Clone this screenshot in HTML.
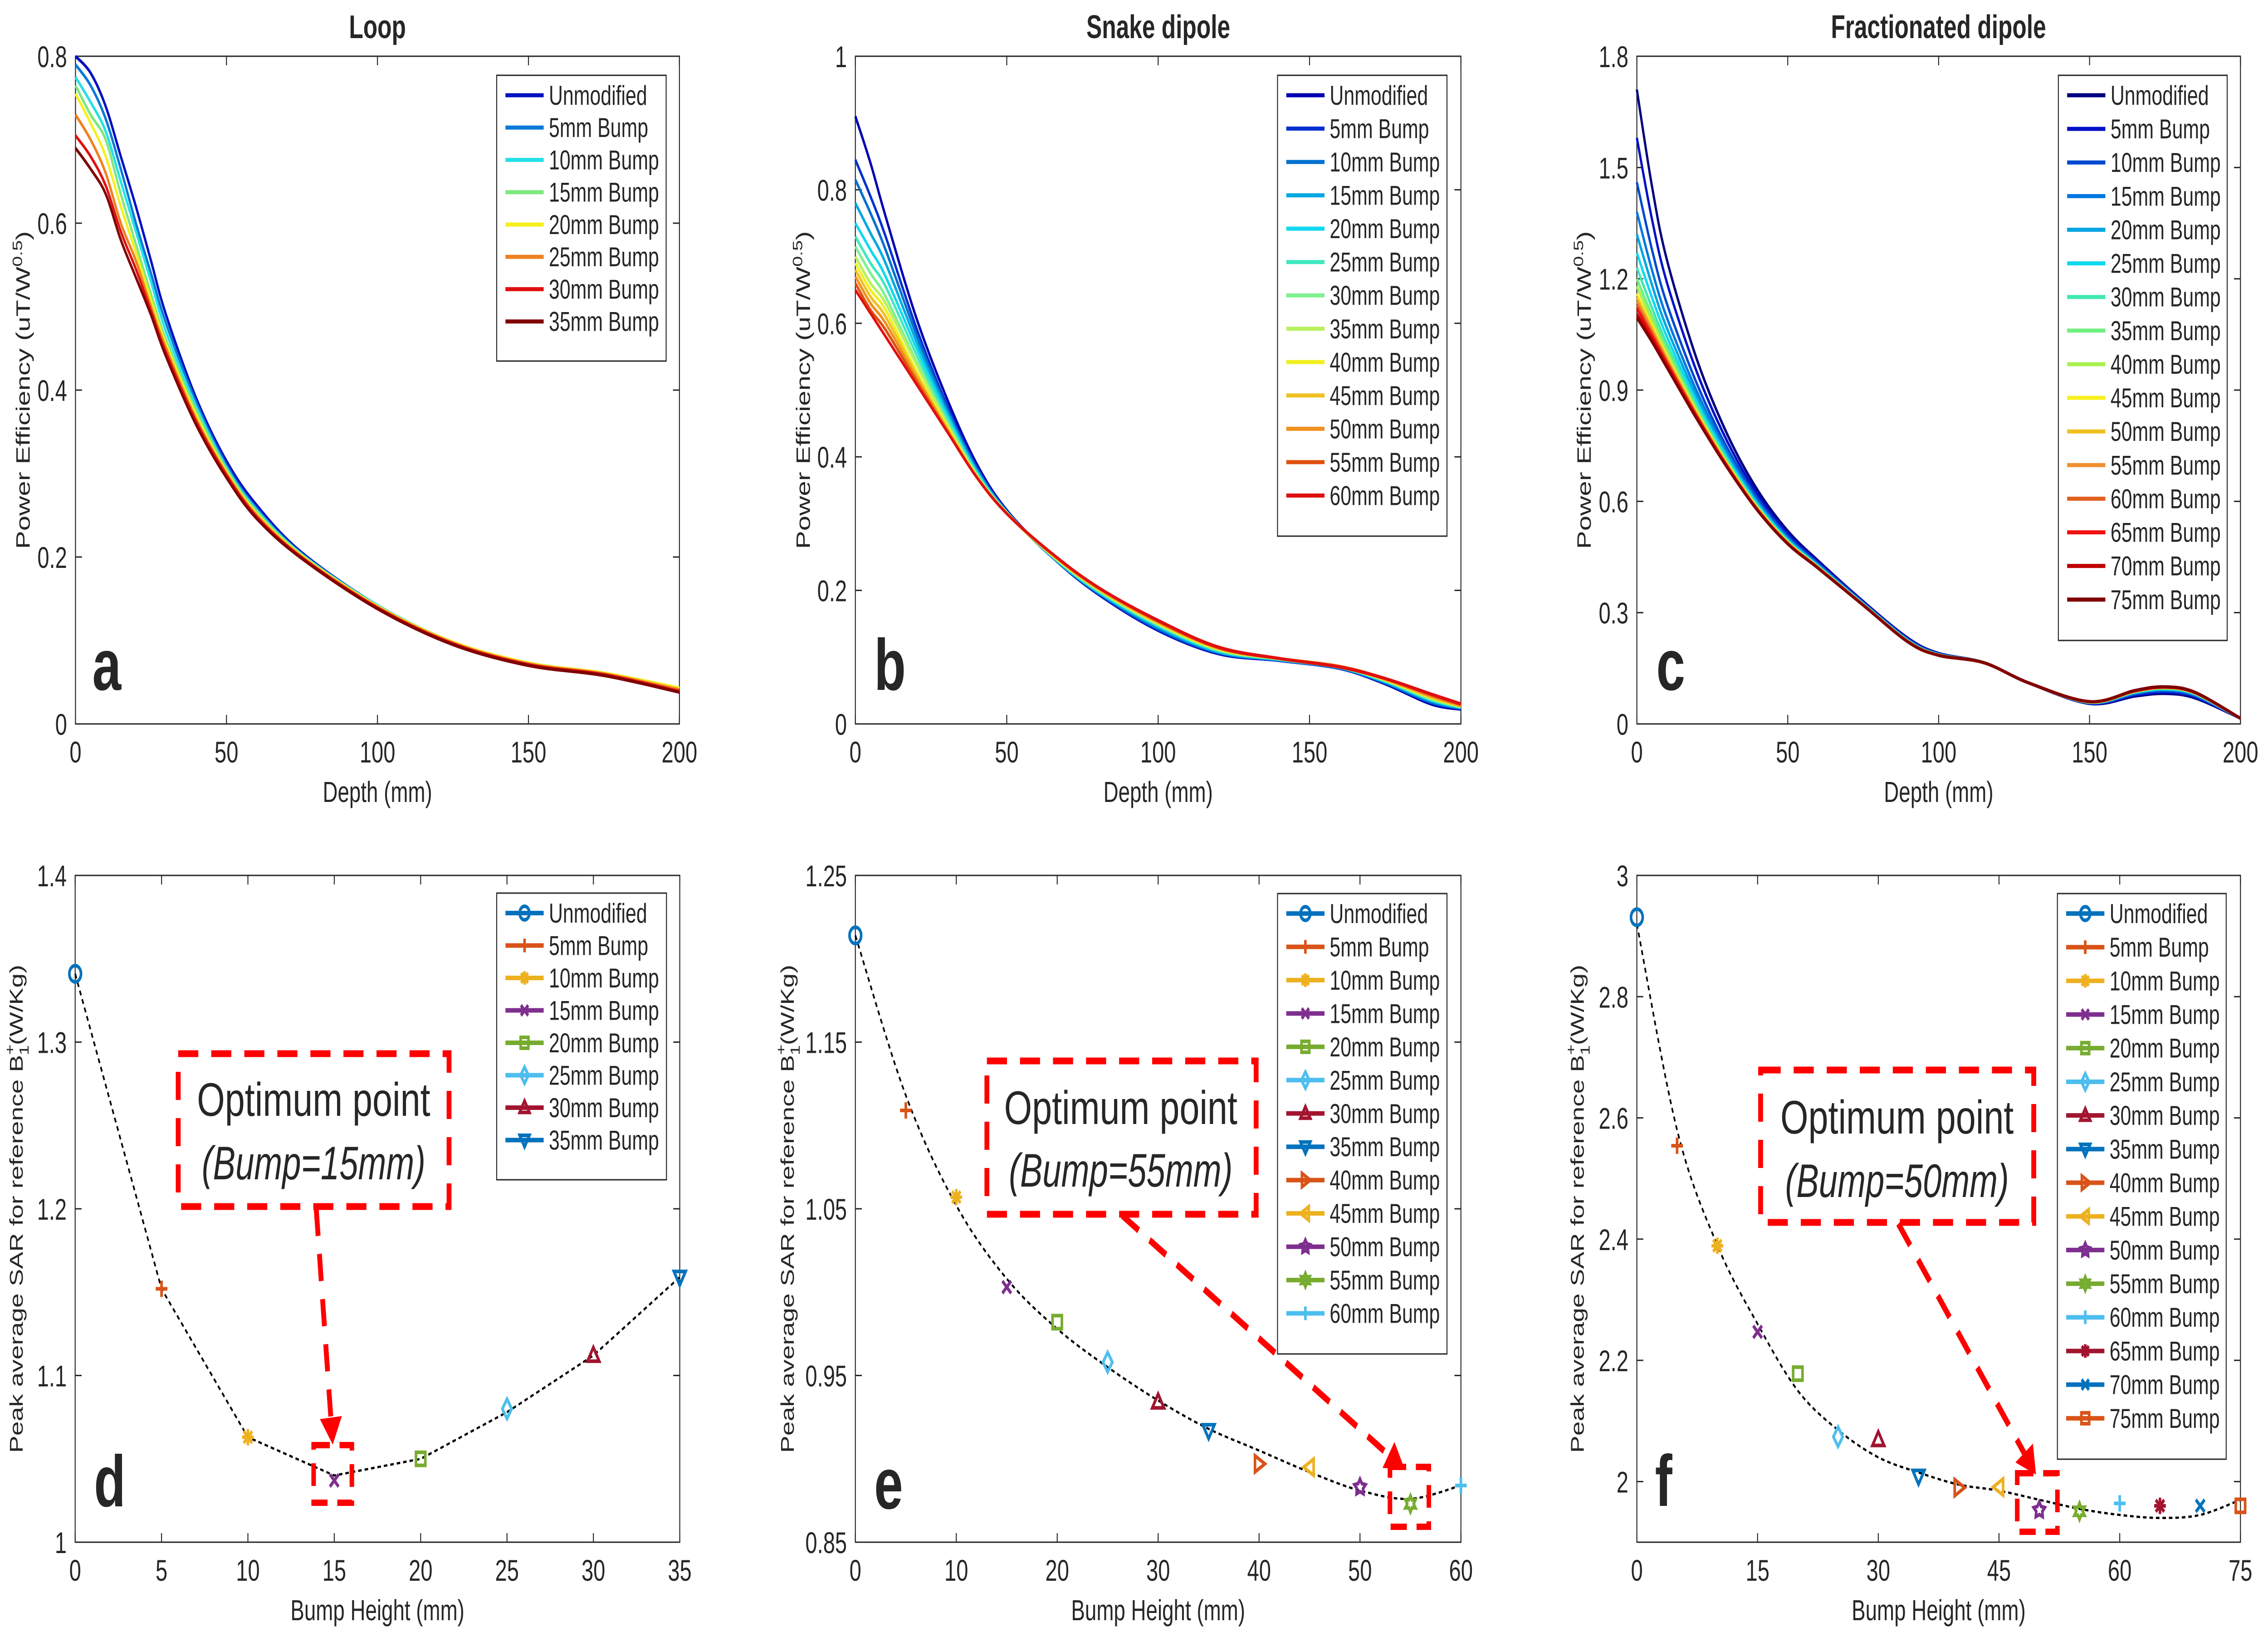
<!DOCTYPE html>
<html><head><meta charset="utf-8"><style>
html,body{margin:0;padding:0;background:#fff;width:100%;height:100%;overflow:hidden}
svg{display:block;width:100vw;height:100vh}
text{font-family:"Liberation Sans",sans-serif;fill:#262626}
</style></head><body>
<svg id="fig" xmlns="http://www.w3.org/2000/svg" viewBox="0 0 7000 3598" preserveAspectRatio="none">
<rect width="7000" height="3598" fill="#fff"/>
</svg>
<script>
// ---------- Panel a (Loop) ----------
const aDepth = [0,5,10,15,20,25,30,40,50,60,75,100,125,150,175,200];
const aNames = ["Unmodified","5mm Bump","10mm Bump","15mm Bump","20mm Bump","25mm Bump","30mm Bump","35mm Bump"];
const aColors = ["#0010c0","#0a7ad8","#27e0e8","#7de87d","#f5f020","#f08020","#e01010","#800000"];
const aS0 = [0.80,0.78,0.74,0.68,0.62,0.555,0.49,0.39,0.315,0.262,0.205,0.142,0.097,0.072,0.060,0.042];
const aS1 = [0.79,0.765,0.725,0.665,0.60,0.54,0.48,0.385,0.31,0.258,0.203,0.141,0.097,0.072,0.060,0.042];
const aS2 = [0.775,0.745,0.71,0.65,0.59,0.53,0.47,0.38,0.307,0.256,0.203,0.142,0.098,0.073,0.061,0.043];
const aS3 = [0.765,0.73,0.70,0.635,0.575,0.515,0.46,0.375,0.305,0.254,0.202,0.141,0.097,0.072,0.060,0.043];
const aS4 = [0.755,0.72,0.68,0.62,0.565,0.508,0.455,0.37,0.302,0.252,0.201,0.141,0.098,0.073,0.061,0.043];
const aS5 = [0.73,0.70,0.66,0.60,0.555,0.50,0.45,0.365,0.30,0.250,0.200,0.140,0.097,0.072,0.060,0.041];
const aS6 = [0.705,0.68,0.645,0.59,0.545,0.495,0.445,0.362,0.298,0.248,0.199,0.139,0.096,0.071,0.059,0.039];
const aS7 = [0.69,0.665,0.635,0.58,0.535,0.49,0.44,0.358,0.295,0.246,0.198,0.138,0.095,0.070,0.058,0.038];
const aYTicks = [0,0.2,0.4,0.6,0.8];
const aYLabels = ["0","0.2","0.4","0.6","0.8"];

// ---------- Panel b (Snake dipole) ----------
const bDepth = [0,5,10,20,30,40,50,65,80,100,120,140,160,175,190,200];
const bNames = ["Unmodified","5mm Bump","10mm Bump","15mm Bump","20mm Bump","25mm Bump","30mm Bump","35mm Bump","40mm Bump","45mm Bump","50mm Bump","55mm Bump","60mm Bump"];
const bColors = ["#0000b0","#0030d0","#0070d0","#00a8e0","#10d8f0","#40e8c0","#80f090","#b8f060","#f0f020","#f0c020","#f09020","#e05010","#e01010"];
const bS0 = [0.91,0.84,0.76,0.61,0.49,0.39,0.32,0.25,0.195,0.140,0.105,0.095,0.083,0.060,0.030,0.022];
const bS1 = [0.845,0.79,0.73,0.595,0.48,0.385,0.318,0.25,0.196,0.141,0.106,0.095,0.083,0.061,0.032,0.023];
const bS2 = [0.815,0.765,0.71,0.585,0.475,0.383,0.318,0.25,0.197,0.143,0.107,0.096,0.084,0.062,0.033,0.024];
const bS3 = [0.78,0.735,0.69,0.575,0.47,0.38,0.317,0.251,0.198,0.145,0.108,0.096,0.084,0.063,0.035,0.024];
const bS4 = [0.75,0.71,0.67,0.565,0.465,0.378,0.317,0.251,0.199,0.147,0.109,0.097,0.085,0.064,0.036,0.025];
const bS5 = [0.73,0.69,0.655,0.555,0.46,0.376,0.316,0.252,0.200,0.148,0.110,0.097,0.085,0.065,0.037,0.025];
const bS6 = [0.715,0.675,0.64,0.545,0.455,0.374,0.316,0.252,0.201,0.149,0.111,0.097,0.085,0.065,0.038,0.026];
const bS7 = [0.70,0.66,0.63,0.54,0.452,0.372,0.316,0.253,0.202,0.150,0.112,0.098,0.085,0.066,0.039,0.026];
const bS8 = [0.69,0.65,0.62,0.53,0.448,0.372,0.315,0.253,0.203,0.151,0.112,0.098,0.086,0.066,0.040,0.027];
const bS9 = [0.68,0.64,0.61,0.525,0.445,0.371,0.315,0.254,0.203,0.152,0.113,0.098,0.086,0.067,0.041,0.027];
const bS10 = [0.67,0.63,0.60,0.52,0.443,0.37,0.315,0.254,0.204,0.153,0.114,0.098,0.086,0.067,0.042,0.028];
const bS11 = [0.66,0.62,0.59,0.515,0.441,0.37,0.315,0.255,0.205,0.154,0.114,0.098,0.086,0.068,0.044,0.029];
const bS12 = [0.65,0.615,0.58,0.51,0.44,0.37,0.315,0.255,0.205,0.155,0.115,0.098,0.085,0.068,0.045,0.030];
const bYTicks = [0,0.2,0.4,0.6,0.8,1];
const bYLabels = ["0","0.2","0.4","0.6","0.8","1"];

// ---------- Panel c (Fractionated dipole) ----------
const cDepth = [0,5,10,20,30,40,50,60,75,90,100,115,130,150,165,175,185,200];
const cNames = ["Unmodified","5mm Bump","10mm Bump","15mm Bump","20mm Bump","25mm Bump","30mm Bump","35mm Bump","40mm Bump","45mm Bump","50mm Bump","55mm Bump","60mm Bump","65mm Bump","70mm Bump","75mm Bump"];
const cColors = ["#000080","#0010c8","#0048d0","#0078e0","#00a4e0","#10d8f0","#40e8b0","#70f080","#a8f050","#f8f020","#f0c020","#f09030","#e06020","#f01010","#c00000","#800000"];
const cS0 = [1.71,1.45,1.25,0.98,0.78,0.63,0.52,0.44,0.33,0.23,0.19,0.165,0.11,0.055,0.075,0.082,0.07,0.015];
const cS1 = [1.58,1.361,1.189,0.946,0.761,0.618,0.513,0.436,0.328,0.228,0.189,0.165,0.11,0.056,0.078,0.086,0.073,0.015];
const cS2 = [1.46,1.279,1.132,0.915,0.743,0.608,0.506,0.432,0.326,0.226,0.188,0.165,0.11,0.057,0.081,0.089,0.076,0.015];
const cS3 = [1.38,1.224,1.094,0.894,0.732,0.600,0.501,0.429,0.325,0.225,0.187,0.165,0.11,0.058,0.083,0.092,0.078,0.015];
const cS4 = [1.32,1.184,1.066,0.879,0.723,0.595,0.498,0.427,0.324,0.224,0.187,0.165,0.11,0.058,0.085,0.093,0.080,0.015];
const cS5 = [1.27,1.150,1.043,0.866,0.716,0.591,0.495,0.426,0.323,0.223,0.186,0.165,0.11,0.059,0.086,0.095,0.081,0.015];
const cS6 = [1.23,1.122,1.024,0.855,0.710,0.587,0.493,0.424,0.322,0.222,0.186,0.165,0.11,0.059,0.087,0.096,0.082,0.015];
const cS7 = [1.20,1.102,1.010,0.847,0.705,0.584,0.491,0.423,0.322,0.222,0.186,0.165,0.11,0.059,0.087,0.097,0.082,0.015];
const cS8 = [1.18,1.088,1.000,0.842,0.702,0.583,0.490,0.423,0.321,0.221,0.186,0.165,0.11,0.059,0.088,0.098,0.083,0.015];
const cS9 = [1.16,1.075,0.991,0.837,0.700,0.581,0.489,0.422,0.321,0.221,0.185,0.165,0.11,0.059,0.088,0.098,0.083,0.015];
const cS10 = [1.15,1.067,0.986,0.834,0.698,0.580,0.488,0.422,0.321,0.221,0.185,0.165,0.11,0.060,0.089,0.098,0.084,0.015];
const cS11 = [1.14,1.061,0.981,0.832,0.697,0.579,0.488,0.421,0.321,0.221,0.185,0.165,0.11,0.060,0.089,0.099,0.084,0.015];
const cS12 = [1.13,1.054,0.977,0.829,0.695,0.578,0.487,0.421,0.321,0.221,0.185,0.165,0.11,0.060,0.089,0.099,0.084,0.015];
const cS13 = [1.12,1.047,0.972,0.827,0.694,0.577,0.486,0.421,0.320,0.220,0.185,0.165,0.11,0.060,0.089,0.099,0.084,0.015];
const cS14 = [1.105,1.037,0.965,0.823,0.691,0.576,0.486,0.420,0.320,0.220,0.185,0.165,0.11,0.060,0.090,0.100,0.085,0.015];
const cS15 = [1.095,1.03,0.96,0.82,0.69,0.575,0.485,0.42,0.32,0.22,0.185,0.165,0.11,0.06,0.09,0.10,0.085,0.015];
const cYTicks = [0,0.3,0.6,0.9,1.2,1.5,1.8];
const cYLabels = ["0","0.3","0.6","0.9","1.2","1.5","1.8"];

const depthTicks = [0,50,100,150,200];
const depthLabels = ["0","50","100","150","200"];

// ---------- Panel d ----------
const dBump = [0,5,10,15,20,25,30,35];
const dSAR = [1.341,1.152,1.063,1.037,1.050,1.080,1.112,1.159];
const dCurveX = [0,5,10,15,20,25,30,35];
const dCurveY = [1.341,1.152,1.063,1.040,1.050,1.078,1.112,1.159];
const dXTicks = [0,5,10,15,20,25,30,35];
const dXLabels = ["0","5","10","15","20","25","30","35"];
const dYTicks = [1,1.1,1.2,1.3,1.4];
const dYLabels = ["1","1.1","1.2","1.3","1.4"];

// ---------- Panel e ----------
const eBump = [0,5,10,15,20,25,30,35,40,45,50,55,60];
const eSAR = [1.214,1.109,1.057,1.003,0.982,0.958,0.934,0.917,0.897,0.895,0.883,0.873,0.884];
const eCurveX = [0,5,10,15,20,25,30,35,40,45,50,55,60];
const eCurveY = [1.214,1.118,1.052,1.008,0.978,0.955,0.935,0.918,0.905,0.892,0.881,0.876,0.884];
const eXTicks = [0,10,20,30,40,50,60];
const eXLabels = ["0","10","20","30","40","50","60"];
const eYTicks = [0.85,0.95,1.05,1.15,1.25];
const eYLabels = ["0.85","0.95","1.05","1.15","1.25"];

// ---------- Panel f ----------
const fBump = [0,5,10,15,20,25,30,35,40,45,50,55,60,65,70,75];
const fSAR = [2.931,2.554,2.389,2.247,2.178,2.074,2.069,2.009,1.990,1.991,1.953,1.951,1.964,1.960,1.960,1.960];
const fCurveX = [0,5,10,15,20,25,30,35,40,45,50,55,60,65,70,75];
const fCurveY = [2.92,2.58,2.39,2.26,2.15,2.085,2.04,2.015,1.995,1.985,1.97,1.955,1.945,1.94,1.945,1.97];
const fXTicks = [0,15,30,45,60,75];
const fXLabels = ["0","15","30","45","60","75"];
const fYTicks = [2,2.2,2.4,2.6,2.8,3];
const fYLabels = ["2","2.2","2.4","2.6","2.8","3"];

const bumpNames = ["Unmodified","5mm Bump","10mm Bump","15mm Bump","20mm Bump","25mm Bump","30mm Bump","35mm Bump","40mm Bump","45mm Bump","50mm Bump","55mm Bump","60mm Bump","65mm Bump","70mm Bump","75mm Bump"];
const mCols = ["#0072BD","#D95319","#EDB120","#7E2F8E","#77AC30","#4DBEEE","#A2142F"];
const mShapes = ["o","+","*","x","s","d","^","v",">","<","p","h","+","*","x","s"];

const NS = "http://www.w3.org/2000/svg";
const svg = document.getElementById('fig');
function el(tag, attrs, parent){
  const e = document.createElementNS(NS, tag);
  for (const k in attrs) e.setAttribute(k, attrs[k]);
  (parent||svg).appendChild(e);
  return e;
}
function txt(x,y,s,size,opts,parent){
  const t = el('text',{x:x,y:y,'font-size':size},parent);
  if(opts){for(const k in opts) t.setAttribute(k,opts[k]);}
  t.textContent = s;
  return t;
}
function makeScale(d0,d1,r0,r1){return v => r0 + (v-d0)/(d1-d0)*(r1-r0);}

function smoothPath(pts){
  let d = "M"+pts[0][0].toFixed(1)+","+pts[0][1].toFixed(1);
  for(let i=0;i<pts.length-1;i++){
    const p0 = pts[Math.max(0,i-1)], p1=pts[i], p2=pts[i+1], p3=pts[Math.min(pts.length-1,i+2)];
    const c1x = p1[0]+(p2[0]-p0[0])/6, c1y = p1[1]+(p2[1]-p0[1])/6;
    const c2x = p2[0]-(p3[0]-p1[0])/6, c2y = p2[1]-(p3[1]-p1[1])/6;
    d += " C"+c1x.toFixed(1)+","+c1y.toFixed(1)+" "+c2x.toFixed(1)+","+c2y.toFixed(1)+" "+p2[0].toFixed(1)+","+p2[1].toFixed(1);
  }
  return d;
}

function axes(cfg){
  const g = el('g',{});
  
  
  const {L,R,T,B} = cfg;
  const sx = makeScale(cfg.x0,cfg.x1,L,R), sy = makeScale(cfg.y0,cfg.y1,B,T);
  el('rect',{x:L,y:T,width:R-L,height:B-T,fill:'none',stroke:'#262626','stroke-width':3},g);
  cfg.xTicks.forEach((v,i)=>{
    const x = sx(v);
    el('line',{x1:x,y1:B,x2:x,y2:B-20,stroke:'#262626','stroke-width':3},g);
    el('line',{x1:x,y1:T,x2:x,y2:T+20,stroke:'#262626','stroke-width':3},g);
    const t = txt(x,B+85,cfg.xLabels[i],66,{'text-anchor':'middle'},g);
    
    
  });
  cfg.yTicks.forEach((v,i)=>{
    const y = sy(v);
    el('line',{x1:L,y1:y,x2:L+20,y2:y,stroke:'#262626','stroke-width':3},g);
    el('line',{x1:R,y1:y,x2:R-20,y2:y,stroke:'#262626','stroke-width':3},g);
    const t = txt(L-26,y+24,cfg.yLabels[i],66,{'text-anchor':'end'},g);
    
    
  });
  const xl = txt((L+R)/2,cfg.xlabY,cfg.xlabel,64,{'text-anchor':'middle'},g);
  
  
  return {g,sx,sy};
}

function yTitlePower(x,cy){
  const t = el('text',{x:0,y:0,'font-size':60,'text-anchor':'middle',transform:`translate(${x},${cy}) rotate(-90)`});
  
  
  const a = el('tspan',{},t); a.textContent = "Power Efficiency (uT/W";
  const b = el('tspan',{'font-size':42,dy:-24},t); b.textContent = "0.5";
  const c = el('tspan',{dy:24},t); c.textContent = ")";
}
function yTitleSAR(x,cy){
  const t = el('text',{x:0,y:0,'font-size':57,'text-anchor':'middle',transform:`translate(${x},${cy}) rotate(-90)`});
  
  
  const a = el('tspan',{},t); a.textContent = "Peak average SAR for reference B";
  const b = el('tspan',{'font-size':40,dy:-26},t); b.textContent = "+";
  const c = el('tspan',{'font-size':40,dx:-24,dy:44},t); c.textContent = "1";
  const d = el('tspan',{dy:-18},t); d.textContent = "(W/Kg)";
}
function title(x,s){
  const t = txt(x,84,s,72,{'text-anchor':'middle','font-weight':'bold',fill:'#000'});
  
  
}
function letter(x,y,s){
  const t = txt(x,y,s,160,{'font-weight':'bold',fill:'#000'});
  
  
}

function marker(g,shape,x,y,col,r){
  const sw = 8;
  const common = {fill:'none',stroke:col,'stroke-width':sw,'stroke-linejoin':'miter'};
  let m;
  if(shape==='o'){ m = el('circle',Object.assign({cx:x,cy:y,r:r},common),g); }
  else if(shape==='+'){ m = el('path',Object.assign({d:`M${x-r},${y}H${x+r}M${x},${y-r}V${y+r}`},common),g); }
  else if(shape==='x'){ const q=r*0.75; m = el('path',Object.assign({d:`M${x-q},${y-q}L${x+q},${y+q}M${x-q},${y+q}L${x+q},${y-q}`},common),g); }
  else if(shape==='*'){ const q=r*0.72; m = el('path',Object.assign({d:`M${x-r},${y}H${x+r}M${x},${y-r}V${y+r}M${x-q},${y-q}L${x+q},${y+q}M${x-q},${y+q}L${x+q},${y-q}`},common),g); }
  else if(shape==='s'){ const q=r*0.8; m = el('rect',Object.assign({x:x-q,y:y-q,width:2*q,height:2*q},common),g); }
  else if(shape==='d'){ m = el('path',Object.assign({d:`M${x},${y-r*1.2}L${x+r*0.8},${y}L${x},${y+r*1.2}L${x-r*0.8},${y}Z`},common),g); }
  else if(shape==='^'){ m = el('path',Object.assign({d:`M${x},${y-r}L${x+r},${y+r*0.7}L${x-r},${y+r*0.7}Z`},common),g); }
  else if(shape==='v'){ m = el('path',Object.assign({d:`M${x},${y+r}L${x+r},${y-r*0.7}L${x-r},${y-r*0.7}Z`},common),g); }
  else if(shape==='>'){ m = el('path',Object.assign({d:`M${x+r},${y}L${x-r*0.7},${y+r}L${x-r*0.7},${y-r}Z`},common),g); }
  else if(shape==='<'){ m = el('path',Object.assign({d:`M${x-r},${y}L${x+r*0.7},${y+r}L${x+r*0.7},${y-r}Z`},common),g); }
  else if(shape==='p'||shape==='h'){
    const n = shape==='p'?5:6; let d="";
    for(let i=0;i<2*n;i++){ const rr = i%2? r*0.55 : r; const a = -Math.PI/2 + i*Math.PI/n; d += (i?"L":"M")+(x+rr*Math.cos(a)).toFixed(1)+","+(y+rr*Math.sin(a)).toFixed(1);} d+="Z";
    m = el('path',Object.assign({d:d},common),g);
  }
  return m;
}

function legend(L,T,W,H,names,colors,withMarkers,name){
  const g = el('g',{});
  
  
  el('rect',{x:L,y:T,width:W,height:H,fill:'#fff',stroke:'#262626','stroke-width':3},g);
  const step = (H-60)/names.length;
  names.forEach((n,i)=>{
    const y = T+44+i*step;
    const e = el('g',{},g);
    
    
    const col = withMarkers ? mCols[i%7] : colors[i];
    el('line',{x1:L+27,y1:y,x2:L+145,y2:y,stroke:col,'stroke-width':withMarkers?10:9},e);
    if(withMarkers) marker(e,mShapes[i],L+86,y,col,15);
    txt(L+161,y+21,n,60,{fill:'#000'},e);
  });
}

function linePanel(cfg, depth, series, colors, names){
  const {g,sx,sy} = axes(cfg);
  series.forEach((s,i)=>{
    const pts = depth.map((d,j)=>[sx(d),sy(s[j])]);
    const p = el('path',{d:smoothPath(pts),fill:'none',stroke:colors[i],'stroke-width':7,'stroke-linejoin':'round'},g);
    
    
  });
}

function scatterPanel(cfg, xs, ys, cx, cy, smooth){
  const {g,sx,sy} = axes(cfg);
  const pts = cx.map((v,i)=>[sx(v),sy(cy[i])]);
  const d = smooth ? smoothPath(pts) : "M"+pts.map(p=>p[0].toFixed(1)+","+p[1].toFixed(1)).join(" L");
  const c = el('path',{d:d,fill:'none',stroke:'#000','stroke-width':5,'stroke-dasharray':'11 9'},g);
  
  
  xs.forEach((v,i)=>{
    const m = marker(g,mShapes[i],sx(v),sy(ys[i]),mCols[i%7],18);
    
    
  });
}

// ----- top row -----
const topT=124, topB=1596;
linePanel({name:'loop',L:233,R:2097,T:topT,B:topB,x0:0,x1:200,y0:0,y1:0.8,xTicks:depthTicks,xLabels:depthLabels,yTicks:aYTicks,yLabels:aYLabels,xlabel:'Depth (mm)',xlabY:1768},
  aDepth,[aS0,aS1,aS2,aS3,aS4,aS5,aS6,aS7],aColors,aNames);
linePanel({name:'snake',L:2640,R:4509,T:topT,B:topB,x0:0,x1:200,y0:0,y1:1,xTicks:depthTicks,xLabels:depthLabels,yTicks:bYTicks,yLabels:bYLabels,xlabel:'Depth (mm)',xlabY:1768},
  bDepth,[bS0,bS1,bS2,bS3,bS4,bS5,bS6,bS7,bS8,bS9,bS10,bS11,bS12],bColors,bNames);
linePanel({name:'fractionated',L:5052,R:6915,T:topT,B:topB,x0:0,x1:200,y0:0,y1:1.8,xTicks:depthTicks,xLabels:depthLabels,yTicks:cYTicks,yLabels:cYLabels,xlabel:'Depth (mm)',xlabY:1768},
  cDepth,[cS0,cS1,cS2,cS3,cS4,cS5,cS6,cS7,cS8,cS9,cS10,cS11,cS12,cS13,cS14,cS15],cColors,cNames);
title(1165,"Loop"); title(3575,"Snake dipole"); title(5983,"Fractionated dipole");
yTitlePower(92,860); yTitlePower(2500,860); yTitlePower(4910,860);
legend(1533,166,523,630,aNames,aColors,false,'legend-loop');
legend(3943,166,523,1016,bNames,bColors,false,'legend-snake');
legend(6353,166,521,1246,cNames,cColors,false,'legend-fractionated');
letter(285,1521,'a'); letter(2698,1521,'b'); letter(5112,1521,'c');

// ----- bottom row -----
const botT=1930, botB=3400;
scatterPanel({name:'sar-loop',L:232,R:2098,T:botT,B:botB,x0:0,x1:35,y0:1,y1:1.4,xTicks:dXTicks,xLabels:dXLabels,yTicks:dYTicks,yLabels:dYLabels,xlabel:'Bump Height (mm)',xlabY:3572},
  dBump,dSAR,dCurveX,dCurveY,false);
scatterPanel({name:'sar-snake',L:2640,R:4509,T:botT,B:botB,x0:0,x1:60,y0:0.85,y1:1.25,xTicks:eXTicks,xLabels:eXLabels,yTicks:eYTicks,yLabels:eYLabels,xlabel:'Bump Height (mm)',xlabY:3572},
  eBump,eSAR,eCurveX,eCurveY,true);
scatterPanel({name:'sar-fractionated',L:5052,R:6915,T:botT,B:botB,x0:0,x1:75,y0:1.9,y1:3,xTicks:fXTicks,xLabels:fXLabels,yTicks:fYTicks,yLabels:fYLabels,xlabel:'Bump Height (mm)',xlabY:3572},
  fBump,fSAR,fCurveX,fCurveY,true);
yTitleSAR(70,2665); yTitleSAR(2450,2665); yTitleSAR(4888,2665);
legend(1533,1969,524,632,bumpNames.slice(0,8),null,true,'legend-sar-loop');
legend(3943,1970,523,1015,bumpNames.slice(0,13),null,true,'legend-sar-snake');
legend(6350,1970,521,1247,bumpNames,null,true,'legend-sar-fractionated');
letter(290,3321,'d'); letter(2698,3326,'e'); letter(5108,3320,'f');

// ----- annotations -----
function annot(box,t1,t2,tx,ty1,ty2,a0,a1,small,name){
  const g = el('g',{});
  
  
  el('rect',{x:box[0],y:box[1],width:box[2]-box[0],height:box[3]-box[1],fill:'none',stroke:'#ff0000','stroke-width':15,'stroke-dasharray':'62 40'},g);
  txt(tx,ty1,t1,104,{'text-anchor':'middle',fill:'#ff0000',textLength:720,lengthAdjust:'spacingAndGlyphs'},g);
  txt(tx,ty2,t2,104,{'text-anchor':'middle',fill:'#ff0000','font-style':'italic'},g);
  const dx=a1[0]-a0[0], dy=a1[1]-a0[1], len=Math.hypot(dx,dy), ux=dx/len, uy=dy/len;
  const hl=60, hw=34;
  const bx=a1[0]-ux*hl, by=a1[1]-uy*hl;
  el('line',{x1:a0[0],y1:a0[1],x2:bx,y2:by,stroke:'#ff0000','stroke-width':15,'stroke-dasharray':'60 40'},g);
  el('path',{d:`M${a1[0]},${a1[1]}L${bx-uy*hw},${by+ux*hw}L${bx+uy*hw},${by-ux*hw}Z`,fill:'#ff0000'},g);
  el('rect',{x:small[0],y:small[1],width:small[2]-small[0],height:small[3]-small[1],fill:'none',stroke:'#ff0000','stroke-width':14,'stroke-dasharray':'50 30'},g);
}
annot([550,2323,1386,2660],"Optimum point","(Bump=15mm)",968,2460,2600,[976,2665],[1027,3185],[968,3186,1086,3313],'optimum-annotation-d');
annot([3046,2339,3877,2677],"Optimum point","(Bump=55mm)",3459,2478,2616,[3464,2680],[4336,3240],[4290,3234,4410,3366],'optimum-annotation-e');
annot([5434,2359,6277,2695],"Optimum point","(Bump=50mm)",5855,2499,2639,[5859,2698],[6284,3251],[6226,3248,6350,3377],'optimum-annotation-f');
</script>
</body></html>
